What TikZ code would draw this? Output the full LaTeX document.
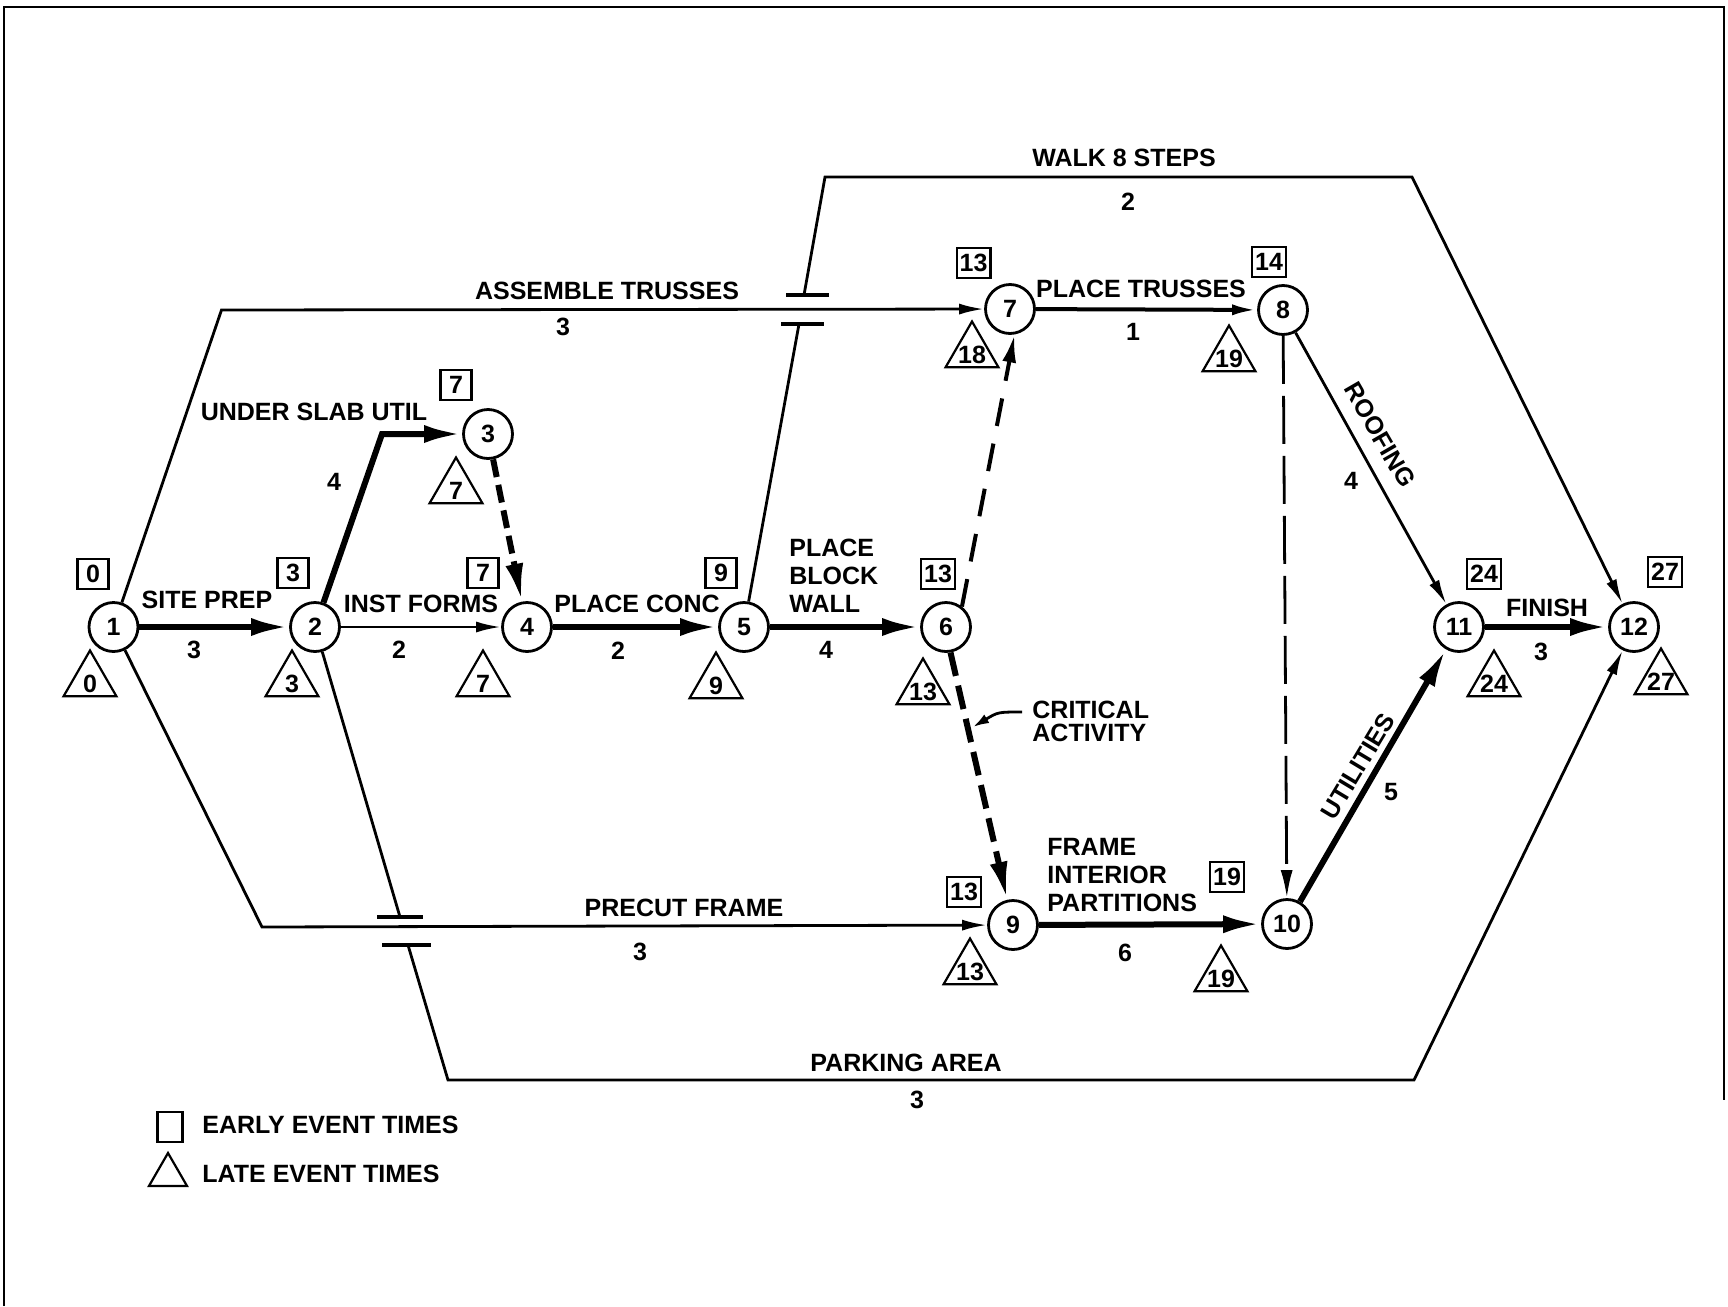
\documentclass[tikz,border=0pt]{standalone}
\usepackage{fontspec}
\setmainfont{Liberation Sans}
\usetikzlibrary{arrows.meta,shapes.geometric}
\newcommand\actfont{\fontsize{12.5}{14}\selectfont\bfseries}
\tikzset{evt/.style={circle,draw,line width=1.4pt,minimum size=24.5pt,inner sep=0pt,font=\actfont},
early/.style={draw,line width=1.1pt,minimum width=15.5pt,minimum height=15pt,inner sep=1.5pt,font=\actfont},
late/.style={regular polygon,regular polygon sides=3,draw,line width=1.1pt,minimum size=30.5pt,inner sep=0pt,label={[font=\actfont,yshift=-1.5pt]center:#1}},
txt/.style={font=\actfont,inner sep=0pt},
plain/.style={line width=1.4pt},act/.style={plain,-{Latex[length=12.5pt,width=5.5pt]}},
crit/.style={line width=3pt,-{Latex[length=19pt,width=9pt]}},bar/.style={line width=2pt}}
\begin{document}
\begin{tikzpicture}[x=0.5pt,y=-0.5pt]
\useasboundingbox(0,0)rectangle(1728,1306);
\draw[line width=1pt](4,1306)--(4,7)--(1724,7)--(1724,1100);
\node[evt](n1)at(113.5,627){1};\node[evt](n2)at(315,627){2};\node[evt](n3)at(488,434){3};
\node[evt](n4)at(527,627){4};\node[evt](n5)at(744,627){5};\node[evt](n6)at(946,627){6};
\node[evt](n7)at(1010,309){7};\node[evt](n8)at(1283,310){8};\node[evt](n9)at(1013,925){9};
\node[evt](n10)at(1287,924){10};\node[evt](n11)at(1459,627){11};\node[evt](n12)at(1634,627){12};
\node[early](e1)at(93,574){0};\node[early](e2)at(293,573){3};\node[early](e3)at(456,385){7};
\node[early](e4)at(483,573){7};\node[early](e5)at(721,573){9};\node[early](e6)at(938,574){13};
\node[early](e7)at(973.5,263){13};\node[early](e8)at(1269,262){14};\node[early](e9)at(964,892){13};
\node[early](e10)at(1227,877){19};\node[early](e11)at(1484,574){24};\node[early](e12)at(1665,572){27};
\node[late=0](l1)at(90,681){};\node[late=3](l2)at(292,681){};\node[late=7](l3)at(456,488){};
\node[late=7](l4)at(483,681){};\node[late=9](l5)at(716,683){};\node[late=13](l6)at(923,689){};
\node[late=18](l7)at(972,352){};\node[late=19](l8)at(1229,356){};\node[late=13](l9)at(970,969){};
\node[late=19](l10)at(1221,976){};\node[late=24](l11)at(1494,681){};\node[late=27](l12)at(1661,679){};
\coordinate(a1)at(221.5,310);\coordinate(a2)at(382,434);\coordinate(a3)at(262,927);
\coordinate(w1)at(799,324);\coordinate(w2)at(804,295);\coordinate(w3)at(825,177);\coordinate(w4)at(1412,177);
\coordinate(p1)at(400,917);\coordinate(p2)at(408,945);\coordinate(p3)at(448,1080);\coordinate(p4)at(1414,1080);
\coordinate(cs)at(1022,712);\coordinate(ct)at(973,727);
\draw[crit](n1)--(n2);\draw[crit](n2)--(a2)--(n3);\draw[crit,dash pattern=on 9pt off 4pt](n3)--(n4);
\draw[act](n2)--(n4);\draw[crit](n4)--(n5);\draw[crit](n5)--(n6);
\draw[act](n1)--(a1)--(n7);\draw[act,line width=2pt](n7)--(n8);
\draw[act,line width=2pt,dash pattern=on 14pt off 9pt,-{Latex[length=14pt,width=7pt]}](n6.52)--(n7.-80);
\draw[crit,dash pattern=on 12pt off 5pt](n6.-80)--(n9.103);
\draw[act,dash pattern=on 24pt off 6pt,-{Latex[length=14pt,width=6pt]}](n8)--(n10);
\draw[act](n8)--(n11);\draw[act](n1)--(a3)--(n9);
\draw[crit](n9)--(n10);\draw[crit](n10)--(n11);\draw[crit](n11)--(n12);
\draw[plain](n5)--(w1);\draw[act](w2)--(w3)--(w4)--(n12);
\draw[bar](781,324)--(824,324);\draw[bar](786,295)--(829,295);
\draw[plain](n2)--(p1);\draw[act](p2)--(p3)--(p4)--(n12);
\draw[bar](377,917)--(423,917);\draw[bar](382,945)--(431,945);
\node[txt](tSite)at(207,600){SITE PREP};\node[txt](dSite)at(194,650){3};
\node[txt](tUnder)at(314,412){UNDER SLAB UTIL};\node[txt](dUnder)at(334,482){4};
\node[txt](tInst)at(421,604){INST FORMS};\node[txt](dInst)at(399,650){2};
\node[txt](tConc)at(637,604){PLACE CONC};\node[txt](dConc)at(618,651){2};
\node[txt,align=left,anchor=west](tBlock)at(789,576){PLACE\\BLOCK\\WALL};\node[txt](dBlock)at(826,650){4};
\node[txt](tAsm)at(607,291){ASSEMBLE TRUSSES};\node[txt](dAsm)at(563,327){3};
\node[txt](tWalk)at(1124,158){WALK 8 STEPS};\node[txt](dWalk)at(1128,202){2};
\node[txt](tPlTr)at(1141,289){PLACE TRUSSES};\node[txt](dPlTr)at(1133,332){1};
\node[txt,rotate=-60](tRoof)at(1380,435){ROOFING};\node[txt](dRoof)at(1351,481){4};
\node[txt,align=left,anchor=west](crit)at(1032,721){CRITICAL\\[-2.5pt]ACTIVITY};
\draw[plain,-{Latex[length=8pt,width=5pt]}](cs)..controls(998,712)..(ct);
\node[txt,align=left,anchor=west](tFrame)at(1047,875){FRAME\\INTERIOR\\PARTITIONS};\node[txt](dFrame)at(1125,953){6};
\node[txt](tPre)at(684,908){PRECUT FRAME};\node[txt](dPre)at(640,952){3};
\node[txt](tPark)at(906,1063){PARKING AREA};\node[txt](dPark)at(917,1100){3};
\node[txt,rotate=59](tUtil)at(1358,766){UTILITIES};\node[txt](dUtil)at(1391,792){5};
\node[txt](tFin)at(1547,608){FINISH};\node[txt](dFin)at(1541,652){3};
\node[early,minimum width=12.5pt](kE)at(170,1127){};\node[txt,anchor=west](tE)at(202,1125){EARLY EVENT TIMES};
\node[late={},minimum size=22pt](kL)at(168,1175){};\node[txt,anchor=west](tL)at(202,1174){LATE EVENT TIMES};
\end{tikzpicture}
\end{document}
